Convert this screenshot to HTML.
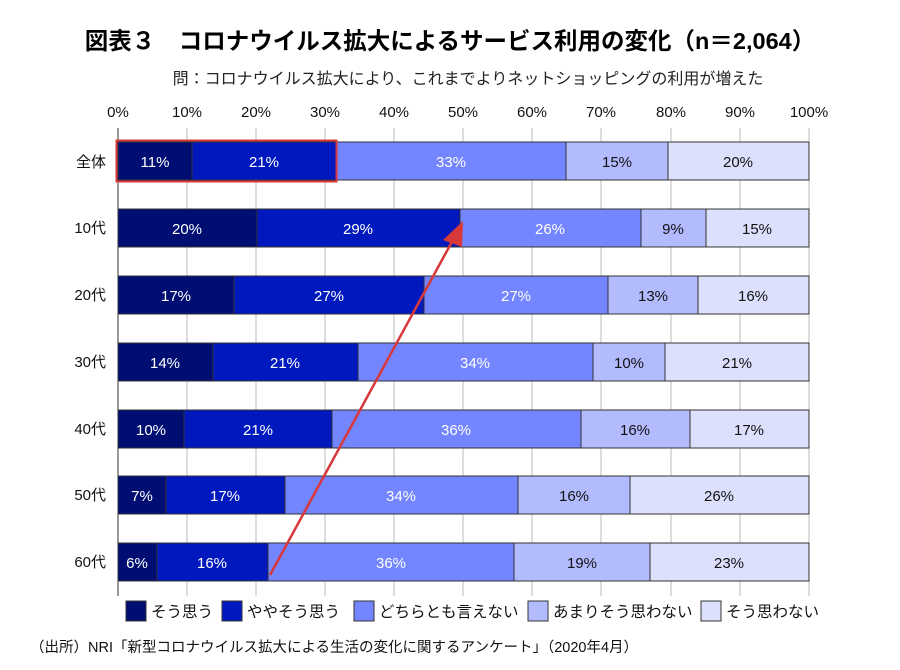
<!DOCTYPE html>
<html><head><meta charset="utf-8"><style>
body{margin:0;background:#fff;}
svg{display:block;font-family:"Liberation Sans","Noto Sans CJK JP",sans-serif;}
</style></head><body>
<svg width="900" height="670" viewBox="0 0 900 670" xmlns="http://www.w3.org/2000/svg">
<text x="450" y="49" text-anchor="middle" font-size="23.5" font-weight="bold" fill="#000">図表３　コロナウイルス拡大によるサービス利用の変化（n＝2,064）</text>
<text x="468" y="84" text-anchor="middle" font-size="16" fill="#222">問：コロナウイルス拡大により、これまでよりネットショッピングの利用が増えた</text>
<g font-size="15" fill="#111" text-anchor="middle">
<text x="118" y="117">0%</text><text x="187" y="117">10%</text><text x="256" y="117">20%</text><text x="325" y="117">30%</text><text x="394" y="117">40%</text><text x="463" y="117">50%</text><text x="532" y="117">60%</text><text x="601" y="117">70%</text><text x="671" y="117">80%</text><text x="740" y="117">90%</text><text x="809" y="117">100%</text>
</g>
<g stroke="#bbb" stroke-width="1">
<line x1="187" y1="128" x2="187" y2="596"/><line x1="256" y1="128" x2="256" y2="596"/><line x1="325" y1="128" x2="325" y2="596"/><line x1="394" y1="128" x2="394" y2="596"/><line x1="463" y1="128" x2="463" y2="596"/><line x1="532" y1="128" x2="532" y2="596"/><line x1="601" y1="128" x2="601" y2="596"/><line x1="671" y1="128" x2="671" y2="596"/><line x1="740" y1="128" x2="740" y2="596"/><line x1="809" y1="128" x2="809" y2="596"/>
</g>
<line x1="118" y1="128" x2="118" y2="596" stroke="#333"/>
<g font-size="15" fill="#111" text-anchor="end">
<text x="106" y="167">全体</text><text x="106" y="233">10代</text><text x="106" y="300">20代</text><text x="106" y="367">30代</text><text x="106" y="434">40代</text><text x="106" y="500">50代</text><text x="106" y="567">60代</text>
</g>
<g stroke="#333" stroke-width="1">
<rect x="118" y="142" width="74" height="38" fill="#000d73"/><rect x="192" y="142" width="144" height="38" fill="#0019bf"/><rect x="336" y="142" width="230" height="38" fill="#7385ff"/><rect x="566" y="142" width="102" height="38" fill="#b3bbff"/><rect x="668" y="142" width="141" height="38" fill="#dde0fc"/>
<rect x="118" y="209" width="139" height="38" fill="#000d73"/><rect x="257" y="209" width="203" height="38" fill="#0019bf"/><rect x="460" y="209" width="181" height="38" fill="#7385ff"/><rect x="641" y="209" width="65" height="38" fill="#b3bbff"/><rect x="706" y="209" width="103" height="38" fill="#dde0fc"/>
<rect x="118" y="276" width="116" height="38" fill="#000d73"/><rect x="234" y="276" width="190" height="38" fill="#0019bf"/><rect x="424" y="276" width="184" height="38" fill="#7385ff"/><rect x="608" y="276" width="90" height="38" fill="#b3bbff"/><rect x="698" y="276" width="111" height="38" fill="#dde0fc"/>
<rect x="118" y="343" width="95" height="38" fill="#000d73"/><rect x="213" y="343" width="145" height="38" fill="#0019bf"/><rect x="358" y="343" width="235" height="38" fill="#7385ff"/><rect x="593" y="343" width="72" height="38" fill="#b3bbff"/><rect x="665" y="343" width="144" height="38" fill="#dde0fc"/>
<rect x="118" y="410" width="66" height="38" fill="#000d73"/><rect x="184" y="410" width="148" height="38" fill="#0019bf"/><rect x="332" y="410" width="249" height="38" fill="#7385ff"/><rect x="581" y="410" width="109" height="38" fill="#b3bbff"/><rect x="690" y="410" width="119" height="38" fill="#dde0fc"/>
<rect x="118" y="476" width="48" height="38" fill="#000d73"/><rect x="166" y="476" width="119" height="38" fill="#0019bf"/><rect x="285" y="476" width="233" height="38" fill="#7385ff"/><rect x="518" y="476" width="112" height="38" fill="#b3bbff"/><rect x="630" y="476" width="179" height="38" fill="#dde0fc"/>
<rect x="118" y="543" width="39" height="38" fill="#000d73"/><rect x="157" y="543" width="111" height="38" fill="#0019bf"/><rect x="268" y="543" width="246" height="38" fill="#7385ff"/><rect x="514" y="543" width="136" height="38" fill="#b3bbff"/><rect x="650" y="543" width="159" height="38" fill="#dde0fc"/>
</g>
<g font-size="15" text-anchor="middle">
<g fill="#fff">
<text x="155" y="167">11%</text><text x="264" y="167">21%</text><text x="451" y="167">33%</text>
<text x="187" y="234">20%</text><text x="358" y="234">29%</text><text x="550" y="234">26%</text>
<text x="176" y="301">17%</text><text x="329" y="301">27%</text><text x="516" y="301">27%</text>
<text x="165" y="368">14%</text><text x="285" y="368">21%</text><text x="475" y="368">34%</text>
<text x="151" y="435">10%</text><text x="258" y="435">21%</text><text x="456" y="435">36%</text>
<text x="142" y="501">7%</text><text x="225" y="501">17%</text><text x="401" y="501">34%</text>
<text x="137" y="568">6%</text><text x="212" y="568">16%</text><text x="391" y="568">36%</text>
</g>
<g fill="#111">
<text x="617" y="167">15%</text><text x="738" y="167">20%</text>
<text x="673" y="234">9%</text><text x="757" y="234">15%</text>
<text x="653" y="301">13%</text><text x="753" y="301">16%</text>
<text x="629" y="368">10%</text><text x="737" y="368">21%</text>
<text x="635" y="435">16%</text><text x="749" y="435">17%</text>
<text x="574" y="501">16%</text><text x="719" y="501">26%</text>
<text x="582" y="568">19%</text><text x="729" y="568">23%</text>
</g>
</g>
<rect x="116.5" y="140.5" width="220" height="41" fill="none" stroke="#d9383a" stroke-width="2"/>
<line x1="270" y1="575" x2="454" y2="238" stroke="#d9383a" stroke-width="2.5"/>
<polygon points="463,221 443,240 462,247" fill="#d9383a"/>
<g stroke="#333" stroke-width="1">
<rect x="126" y="601" width="20" height="20" fill="#000d73"/><rect x="222" y="601" width="20" height="20" fill="#0019bf"/><rect x="354" y="601" width="20" height="20" fill="#7385ff"/><rect x="528" y="601" width="20" height="20" fill="#b3bbff"/><rect x="701" y="601" width="20" height="20" fill="#dde0fc"/>
</g>
<g font-size="15.5" fill="#111">
<text x="151" y="617">そう思う</text><text x="247" y="617">ややそう思う</text><text x="379" y="617">どちらとも言えない</text><text x="553" y="617">あまりそう思わない</text><text x="726" y="617">そう思わない</text>
</g>
<text x="30" y="652" font-size="14.5" fill="#111">（出所）NRI「新型コロナウイルス拡大による生活の変化に関するアンケート」（2020年4月）</text>
</svg>
</body></html>
